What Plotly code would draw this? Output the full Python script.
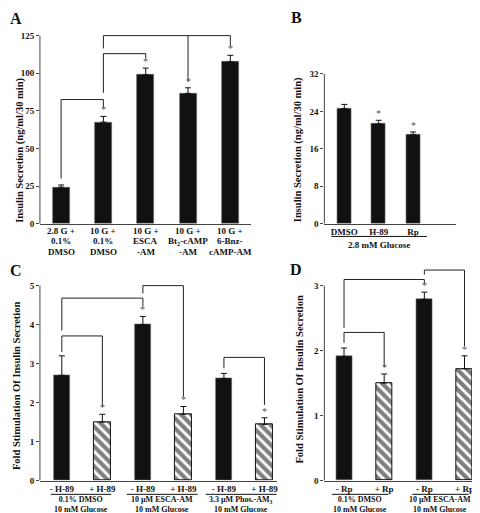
import plotly.graph_objects as go

W, H = 480, 513
FONT = "Liberation Serif, Times New Roman, serif"
INK = "#111111"
AXC = "#444444"

# ---------------- data ----------------
# Panel A
a_labels = [["2.8 G +", "0.1%", "DMSO"], ["10 G +", "0.1%", "DMSO"], ["10 G +", "ESCA", "-AM"],
            ["10 G +", "Bt<sub>2</sub>-cAMP", "-AM"], ["10 G +", "6-Bnz-", "cAMP-AM"]]
a_values = [24.2, 67.5, 99.0, 86.6, 107.5]
a_errors = [1.5, 3.8, 4.4, 3.7, 4.4]
a_stars = [False, True, True, True, True]
a_ticks = [0, 25, 50, 75, 100, 125]

# Panel B
b_labels = ["DMSO", "H-89", "Rp"]
b_values = [24.6, 21.3, 19.0]
b_errors = [0.9, 0.8, 0.6]
b_stars = [False, True, True]
b_group = "2.8 mM Glucose"
b_ticks = [0, 8, 16, 24, 32]

# Panel C
c_labels = ["- H-89", "+ H-89", "- H-89", "+ H-89", "- H-89", "+ H-89"]
c_values = [2.7, 1.5, 4.0, 1.7, 2.62, 1.44]
c_errors = [0.5, 0.2, 0.21, 0.2, 0.13, 0.17]
c_hatched = [False, True, False, True, False, True]
c_stars = [False, True, True, True, False, True]
c_groups = [["0.1% DMSO", "10 mM Glucose"], ["10 µM ESCA-AM", "10 mM Glucose"],
            ["3.3 µM Phos.-AM<sub>3</sub>", "10 mM Glucose"]]
c_ticks = [0, 1, 2, 3, 4, 5]

# Panel D
d_labels = ["- Rp", "+ Rp", "- Rp", "+ Rp"]
d_values = [1.91, 1.5, 2.79, 1.72]
d_errors = [0.13, 0.14, 0.11, 0.2]
d_hatched = [False, True, False, True]
d_stars = [False, True, True, True]
d_groups = [["0.1% DMSO", "10 mM Glucose"], ["10 µM ESCA-AM", "10 mM Glucose"]]
d_ticks = [0, 1, 2, 3]

ytitle_ab = "Insulin Secretion (ng/ml/30 min)"
ytitle_cd = "Fold Stimulation Of Insulin Secretion"

# significance brackets: top height and legs (x, lower end)
a_brackets = [dict(top=82.5, legs=[(0, 30), (1, 77)]),
              dict(top=113, legs=[(1, 87), (2, 110)]),
              dict(top=125, legs=[(1, 116.5), (3, 94.5), (4, 118)])]
c_brackets = [dict(top=3.71, legs=[(0, 3.3), (1, 1.9)]),
              dict(top=4.68, legs=[(0, 3.85), (2, 4.47)]),
              dict(top=5.0, legs=[(2, 4.8), (3, 2.15)]),
              dict(top=3.16, legs=[(4, 2.88), (5, 1.94)])]
d_brackets = [dict(top=2.28, legs=[(0, 2.12), (1, 1.75)]),
              dict(top=3.095, legs=[(0, 2.35), (2, 3.03)]),
              dict(top=3.24, legs=[(2, 3.17), (3, 2.07)])]

# ---------------- layout geometry (pixels) ----------------
def px_x(p):
    return p / W

def px_y(p):
    return 1 - p / H

panels = {
    "A": dict(s="", l=32, r=244, b=216, t=25, tick=125, rmax=127, xr=[-0.5, 4.5]),
    "B": dict(s="2", l=317, r=449, b=216, t=64, tick=32, rmax=32.3, xr=[-0.58, 3.25]),
    "C": dict(s="3", l=32, r=270, b=477, t=279, tick=5, rmax=5.06, xr=[-0.54, 5.32]),
    "D": dict(s="4", l=317, r=480, b=477, t=279, tick=3, rmax=3.3, xr=[-0.49, 3.56]),
}

fig = go.Figure()
shapes = []
annots = []


def add_bars(p, values, errors, hatched):
    s = panels[p]["s"]
    xs_solid = [i for i, h in enumerate(hatched) if not h]
    xs_hatch = [i for i, h in enumerate(hatched) if h]
    err = dict(type="data", symmetric=False, color=INK, thickness=1, width=3)
    if xs_solid:
        fig.add_trace(go.Bar(
            x=xs_solid, y=[values[i] for i in xs_solid], width=0.4,
            marker=dict(color=INK, line=dict(color="#666666", width=0.6)),
            error_y=dict(err, array=[errors[i] for i in xs_solid], arrayminus=[0] * len(xs_solid)),
            xaxis="x" + s, yaxis="y" + s, showlegend=False))
    if xs_hatch:
        fig.add_trace(go.Bar(
            x=xs_hatch, y=[values[i] for i in xs_hatch], width=0.4,
            marker=dict(color=INK, line=dict(color=INK, width=1),
                        pattern=dict(shape="\\", fgcolor="#000000", bgcolor="white", size=7, solidity=0.6)),
            error_y=dict(err, array=[errors[i] for i in xs_hatch], arrayminus=[0] * len(xs_hatch)),
            xaxis="x" + s, yaxis="y" + s, showlegend=False))


def add_stars(p, values, errors, stars):
    s = panels[p]["s"]
    for i, (v, e, st) in enumerate(zip(values, errors, stars)):
        if st:
            annots.append(dict(x=i, y=v + e, xref="x" + s, yref="y" + s, text="*", showarrow=False,
                               yanchor="bottom", yshift=-1, font=dict(family=FONT, size=10, color="#555555")))


def add_brackets(p, brackets):
    s = panels[p]["s"]
    line = dict(color="#222222", width=1)
    for br in brackets:
        xs = [lg[0] for lg in br["legs"]]
        shapes.append(dict(type="line", xref="x" + s, yref="y" + s, x0=min(xs), x1=max(xs),
                           y0=br["top"], y1=br["top"], line=line))
        for x, yb in br["legs"]:
            shapes.append(dict(type="line", xref="x" + s, yref="y" + s, x0=x, x1=x,
                               y0=br["top"], y1=yb, line=line))


add_bars("A", a_values, a_errors, [False] * len(a_values))
add_bars("B", b_values, b_errors, [False] * len(b_values))
add_bars("C", c_values, c_errors, c_hatched)
add_bars("D", d_values, d_errors, d_hatched)
add_stars("A", a_values, a_errors, a_stars)
add_stars("B", b_values, b_errors, b_stars)
add_stars("C", c_values, c_errors, c_stars)
add_stars("D", d_values, d_errors, d_stars)
add_brackets("A", a_brackets)
add_brackets("C", c_brackets)
add_brackets("D", d_brackets)

tick_lists = {"A": a_ticks, "B": b_ticks, "C": c_ticks, "D": d_ticks}
xtick_text = {"A": None, "B": b_labels, "C": c_labels, "D": d_labels}

layout = {}
for name, P in panels.items():
    s = P["s"]
    scale = (P["b"] - P["t"]) / P["tick"]
    top_px = P["b"] - P["rmax"] * scale
    xd = [px_x(P["l"]), px_x(P["r"])]
    yd = [px_y(P["b"]), px_y(top_px)]
    tt = xtick_text[name]
    xa = dict(
        domain=xd, range=P["xr"], anchor="y" + s, showgrid=False, zeroline=False,
        showline=True, linecolor=AXC, linewidth=1, ticks="",
        showticklabels=bool(tt), tickfont=dict(family=FONT, size=9, color=INK, weight="bold"),
        fixedrange=True)
    if tt:
        xa.update(tickvals=list(range(len(tt))), ticktext=tt)
    layout["xaxis" + s] = xa
    layout["yaxis" + s] = dict(
        domain=yd, range=[0, P["rmax"]], anchor="x" + s, showgrid=False, zeroline=False,
        showline=False, ticks="outside", ticklen=3, tickcolor=AXC, tickwidth=1,
        tickvals=tick_lists[name], tickfont=dict(family=FONT, size=9, color=INK, weight="bold"),
        fixedrange=True)
    shapes.append(dict(type="line", xref="x" + s + " domain", yref="y" + s, x0=0, x1=0,
                       y0=0, y1=P["tick"], line=dict(color=AXC, width=1)))

# A: multi-line category labels
for i, lines in enumerate(a_labels):
    for txt, ypx in zip(lines, [223.5, 234, 244.5]):
        annots.append(dict(x=i, xref="x", y=px_y(ypx), yref="paper", text=txt, showarrow=False,
                           yanchor="middle", font=dict(family=FONT, size=9, color=INK, weight="bold")))

# B group underline + label
shapes.append(dict(type="line", xref="x2", yref="paper", x0=-0.38, x1=2.4, y0=px_y(229), y1=px_y(229),
                   line=dict(color=INK, width=1)))
annots.append(dict(x=1, xref="x2", y=px_y(238), yref="paper", text=b_group, showarrow=False,
                   yanchor="middle", font=dict(family=FONT, size=9, color=INK, weight="bold")))


def add_groups(s, groups, spans):
    for g, (x0, x1) in zip(groups, spans):
        shapes.append(dict(type="line", xref="x" + s, yref="paper", x0=x0, x1=x1,
                           y0=px_y(491), y1=px_y(491), line=dict(color=INK, width=1)))
        annots.append(dict(x=(x0 + x1) / 2, xref="x" + s, y=px_y(501.5), yref="paper",
                           text="<br>".join(g), showarrow=False, yanchor="middle", borderpad=0,
                           font=dict(family=FONT, size=8, color=INK, weight="bold")))

add_groups("3", c_groups, [(-0.27, 1.22), (1.6, 3.35), (3.55, 5.3)])
add_groups("4", d_groups, [(-0.3, 1.1), (1.7, 3.1)])

# y titles
for txt, xpx, ypx in [(ytitle_ab, 12, 141), (ytitle_ab, 290, 141), (ytitle_cd, 8, 380), (ytitle_cd, 292, 374)]:
    annots.append(dict(x=px_x(xpx), y=px_y(ypx), xref="paper", yref="paper", text=txt, textangle=-90,
                       showarrow=False, xanchor="center", yanchor="middle",
                       font=dict(family=FONT, size=10.5, color=INK, weight="bold")))

# panel letters
for txt, xpx, ypx in [("A", 8, 8), ("B", 289, 7), ("C", 8, 264), ("D", 289, 263)]:
    annots.append(dict(x=px_x(xpx), y=px_y(ypx), xref="paper", yref="paper", text=txt,
                       showarrow=False, xanchor="center", yanchor="middle",
                       font=dict(family=FONT, size=16, color=INK, weight="bold")))

fig.update_layout(
    width=W, height=H, margin=dict(l=0, r=0, t=0, b=0), autosize=False,
    paper_bgcolor="white", plot_bgcolor="white", bargap=0, showlegend=False,
    shapes=shapes, annotations=annots, **layout)

fig.write_html("out.html", config={"displayModeBar": False})
